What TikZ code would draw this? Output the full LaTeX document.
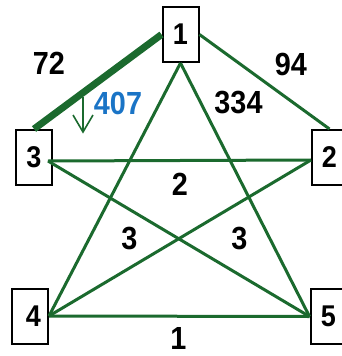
\documentclass[tikz,border=0pt]{standalone}
\usepackage{fontspec}
\setmainfont{Liberation Sans}[FakeStretch=0.9]
\definecolor{edgegreen}{HTML}{1B6A2E}
\definecolor{flowblue}{HTML}{1A74C6}
\begin{document}
\begin{tikzpicture}[x=1pt,y=-1pt,
  box/.style={draw=black,line width=2pt,minimum width=36pt,minimum height=55pt,inner sep=0pt,font=\fontsize{30}{30}\selectfont\bfseries},
  lbl/.style={font=\fontsize{32}{32}\selectfont\bfseries,inner sep=0pt},
  edge/.style={draw=edgegreen,line width=3pt},
  heavyedge/.style={draw=edgegreen,line width=7pt},
  flowarrow/.style={draw=edgegreen,line width=1.6pt},
]
\useasboundingbox (0,0) rectangle (342,356);
% boxes
\node[box] (b1) at (180.5,34.5) {1};
\node[box] (b3) at (34,157.5) {\raisebox{-3pt}{3}};
\node[box] (b2) at (329.5,157.5) {\raisebox{-3pt}{2}};
\node[box] (b4) at (30,316) {\hspace*{7pt}4};
\node[box] (b5) at (328.5,316.5) {\raisebox{-2pt}{5}};
% connection points
\coordinate (p3) at (48,161);
\coordinate (p2) at (311,160);
% edges
\draw[heavyedge] (b1.west) -- (b3.north);
\draw[edge] (b1.east) -- (b2.north);
\draw[edge] (b1.south) -- (b4.east);
\draw[edge] (b1.south) -- (b5.west);
\draw[edge] (p3) -- (p2);
\draw[edge] (p3) -- (b5.west);
\draw[edge] (p2) -- (b4.east);
\draw[edge] (b4.east) -- (b5.west);
% flow arrow
\coordinate (atop) at (83,97);
\coordinate (atip) at (83,132);
\coordinate (awl) at (73,115);
\coordinate (awr) at (93,115);
\draw[flowarrow] (atop) -- (atip);
\draw[flowarrow,line join=miter] (awl) -- (atip) -- (awr);
% labels
\node[lbl] (l72) at (49,63) {72};
\node[lbl] (l94) at (291,64) {94};
\node[lbl,text=flowblue] (l407) at (118,103) {407};
\node[lbl] (l334) at (238.5,103) {334};
\node[lbl] (l2) at (180,184.5) {2};
\node[lbl] (l3a) at (129.5,239) {3};
\node[lbl] (l3b) at (239.5,239) {3};
\node[lbl] (l1) at (178.5,338) {1};
\end{tikzpicture}
\end{document}
